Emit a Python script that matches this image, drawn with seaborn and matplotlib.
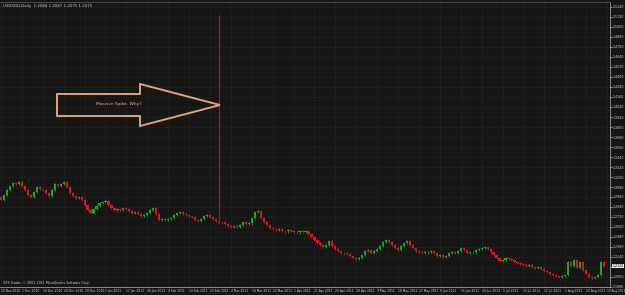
import numpy as np
import matplotlib
matplotlib.use("Agg")
import matplotlib.pyplot as plt
from matplotlib.patches import Polygon
from matplotlib.transforms import blended_transform_factory
import seaborn as sns

# ---------------- data ----------------
symbol_title = "USDSGD,Daily  1.2084 1.2087 1.2075 1.2075"
copyright_text = "VXX Trader, \u00a9 2001-2011 MetaQuotes Software Corp."
annotation_text = "Massive Spike. Why?"

first_open = 1.2960
closes = [
    1.2924, 1.2984, 1.3044, 1.3092, 1.3128, 1.3116, 1.3140, 1.3092, 1.3044, 1.2984,
    1.2960, 1.3020, 1.3080, 1.3056, 1.3044, 1.3008, 1.2972, 1.3044, 1.3116, 1.3092,
    1.3116, 1.3140, 1.3080, 1.3008, 1.2972, 1.2948, 1.2960, 1.2924, 1.2864, 1.2804,
    1.2768, 1.2816, 1.2852, 1.2888, 1.2900, 1.2912, 1.2864, 1.2828, 1.2804, 1.2816,
    1.2804, 1.2828, 1.2816, 1.2792, 1.2768, 1.2780, 1.2756, 1.2732, 1.2744, 1.2768,
    1.2804, 1.2828, 1.2756, 1.2684, 1.2696, 1.2684, 1.2696, 1.2708, 1.2744, 1.2768,
    1.2780, 1.2756, 1.2744, 1.2732, 1.2720, 1.2684, 1.2672, 1.2696, 1.2732, 1.2744,
    1.2720, 1.2696, 1.2672, 1.2660, 1.2654, 1.2636, 1.2612, 1.2600, 1.2612, 1.2600,
    1.2624, 1.2660, 1.2636, 1.2642, 1.2708, 1.2780, 1.2792, 1.2708, 1.2660, 1.2624,
    1.2588, 1.2576, 1.2564, 1.2576, 1.2552, 1.2546, 1.2564, 1.2552, 1.2540, 1.2534,
    1.2552, 1.2540, 1.2546, 1.2516, 1.2480, 1.2444, 1.2408, 1.2384, 1.2360, 1.2384,
    1.2432, 1.2372, 1.2336, 1.2312, 1.2288, 1.2282, 1.2276, 1.2252, 1.2228, 1.2216,
    1.2228, 1.2264, 1.2312, 1.2324, 1.2288, 1.2312, 1.2336, 1.2372, 1.2420, 1.2444,
    1.2420, 1.2384, 1.2348, 1.2324, 1.2372, 1.2408, 1.2432, 1.2384, 1.2348, 1.2312,
    1.2300, 1.2288, 1.2294, 1.2300, 1.2312, 1.2288, 1.2252, 1.2258, 1.2240, 1.2252,
    1.2288, 1.2300, 1.2288, 1.2312, 1.2348, 1.2324, 1.2288, 1.2300, 1.2294, 1.2324,
    1.2336, 1.2348, 1.2360, 1.2336, 1.2300, 1.2264, 1.2228, 1.2192, 1.2204, 1.2228,
    1.2216, 1.2204, 1.2180, 1.2168, 1.2156, 1.2144, 1.2132, 1.2138, 1.2120, 1.2108,
    1.2114, 1.2096, 1.2072, 1.2060, 1.2036, 1.2024, 1.2012, 1.2000, 1.2012, 1.2024,
    1.2180, 1.2132, 1.2204, 1.2108, 1.2180, 1.2084, 1.2036, 1.2000, 1.1988, 1.2000,
    1.2024, 1.2180, 1.2132,
]
spike_index = 73
spike_high = 1.5144

date_labels = [
    "22 Nov 2010", "1 Dec 2010", "10 Dec 2010", "20 Dec 2010", "29 Dec 2010",
    "7 Jan 2011", "17 Jan 2011", "26 Jan 2011", "4 Feb 2011", "14 Feb 2011",
    "23 Feb 2011", "4 Mar 2011", "14 Mar 2011", "23 Mar 2011", "1 Apr 2011",
    "11 Apr 2011", "20 Apr 2011", "29 Apr 2011", "9 May 2011", "18 May 2011",
    "27 May 2011", "6 Jun 2011", "15 Jun 2011", "24 Jun 2011", "5 Jul 2011",
    "13 Jul 2011", "22 Jul 2011", "1 Aug 2011", "10 Aug 2011", "19 Aug 2011",
]
bars_per_label = 7
price_ticks = [1.1880 + 0.0120 * k for k in range(29)]

# ---------------- style ----------------
BG = "#161616"
GRID = "#383838"
UP = "#1fa81f"
DOWN = "#d61a1a"
TXT = "#d0d0d0"
PEACH = "#e0a07c"
FS = 2.2

sns.set_theme(style="dark", rc={
    "axes.facecolor": BG, "figure.facecolor": BG,
    "axes.edgecolor": "#9a9a9a", "text.color": TXT,
    "xtick.color": TXT, "ytick.color": TXT,
})
plt.rcParams["font.family"] = ["DejaVu Sans"]

W, H = 625, 295
fig = plt.figure(figsize=(W / 100, H / 100), dpi=100)
ax = fig.add_axes([0, 8 / H, 610 / W, 285 / H])

closes_a = np.array(closes)
opens_a = np.concatenate([[first_open], closes_a[:-1]])
x = np.arange(len(closes_a))
up = closes_a >= opens_a
colors = np.where(up, UP, DOWN)
body_lo = np.minimum(opens_a, closes_a)
body_h = np.maximum(np.abs(closes_a - opens_a), 0.0006)
wick = 0.0014
highs = np.maximum(opens_a, closes_a) + wick
lows = body_lo - wick
highs[spike_index] = spike_high

ax.vlines(x, lows, highs, colors=colors, linewidth=0.6, zorder=2)
ax.vlines([spike_index], [lows[spike_index]], [spike_high], colors="#a01818",
          linewidth=0.9, zorder=2)
ax.bar(x, body_h, bottom=body_lo, width=0.72, color=colors, linewidth=0, zorder=3)

ax.set_xlim(-0.335, 204.0)
ax.set_ylim(1.1868 + 0.0012, 1.530)

# grid / ticks
ax.set_yticks(price_ticks)
ax.set_yticklabels([f"{v:.4f}" for v in price_ticks])
xt = [k * bars_per_label for k in range(len(date_labels))]
ax.set_xticks(xt)
ax.set_xticklabels(date_labels, ha="left")
ax.grid(True, color=GRID, linestyle=(0, (1, 2)), linewidth=0.5)
ax.yaxis.tick_right()
ax.tick_params(axis="y", labelsize=2.3, length=1.5, pad=0.6, width=0.5, colors=TXT)
ax.tick_params(axis="x", labelsize=FS, length=1.2, pad=0.3, width=0.5, colors=TXT)
ax.get_xticklabels()[-1].set_fontsize(2.05)
ax.spines["left"].set_visible(False)
for s in ["right", "bottom", "top"]:
    ax.spines[s].set_color("#9a9a9a")
    ax.spines[s].set_linewidth(0.6)
ax.spines["top"].set_color("#555555")

# current price marker
tr = blended_transform_factory(ax.transAxes, ax.transData)
ax.text(1.004, closes_a[-1], f"{closes_a[-1]:.4f}", transform=tr, fontsize=2.3,
        color="black", va="center", ha="left",
        bbox=dict(boxstyle="square,pad=0.1", fc="#e8e8e8", ec="none"), clip_on=False)

# texts
fig.text(3 / W, 1 - 6 / H, symbol_title, fontsize=2.8, color=TXT, va="center", ha="left")
fig.text(3 / W, 1 - 283 / H, copyright_text, fontsize=2.3, color=TXT, va="center", ha="left")

# arrow annotation
pts = [(57, 94), (140, 94), (140, 84), (220, 105), (140, 126), (140, 116), (57, 116)]
poly = Polygon([(px / W, 1 - py / H) for px, py in pts], closed=True, fill=False,
               edgecolor=PEACH, linewidth=1.4, transform=fig.transFigure)
fig.patches.append(poly)
fig.text(119 / W, 1 - 104 / H, annotation_text, fontsize=3.2, color="#e8b08c",
         ha="center", va="center")

fig.savefig("out.png", dpi=100, facecolor=BG)
